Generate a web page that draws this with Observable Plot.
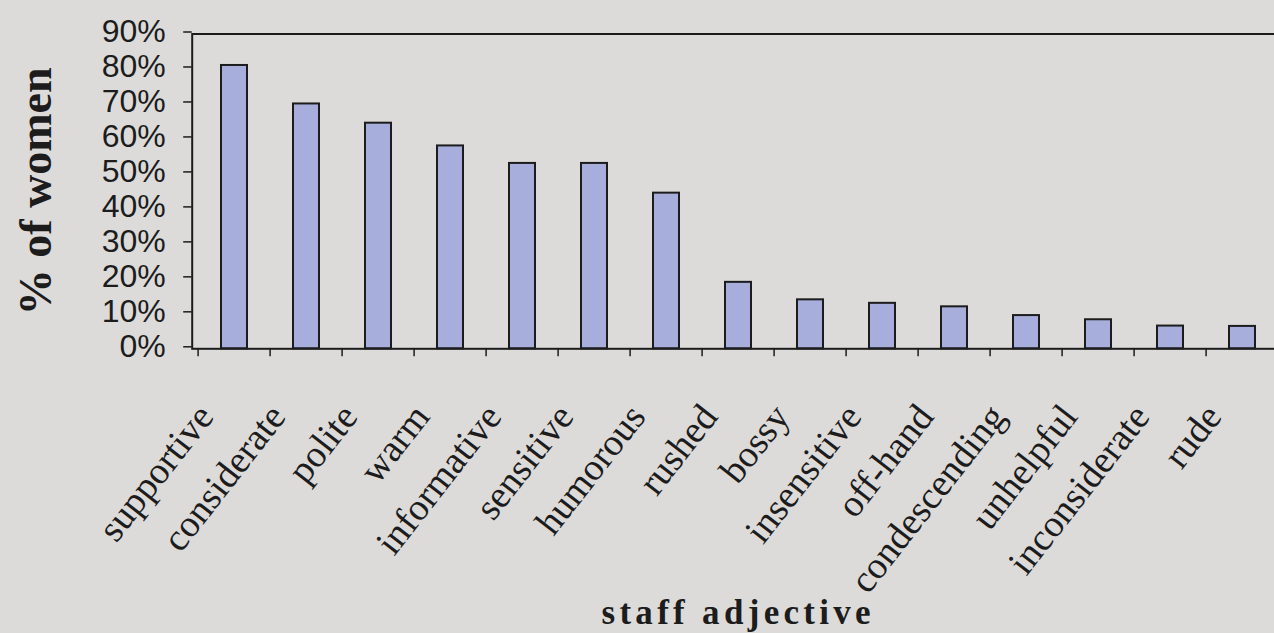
<!DOCTYPE html>
<html>
<head>
<meta charset="utf-8">
<script src="https://cdn.jsdelivr.net/npm/d3@7"></script>
<script src="https://cdn.jsdelivr.net/npm/@observablehq/plot@0.6"></script>
<style>
  html, body { margin: 0; padding: 0; background: #dcdbda; overflow: hidden; }
  #chart svg { display: block; max-width: none !important; }
</style>
</head>
<body>
<div id="chart"></div>
<script>
// ---- data ----
const adjectives = ["supportive", "considerate", "polite", "warm", "informative", "sensitive", "humorous",
  "rushed", "bossy", "insensitive", "off-hand", "condescending", "unhelpful", "inconsiderate", "rude"];
const percentWomen = [81, 70, 64.5, 58, 53, 53, 44.5, 19, 14, 13, 12, 9.5, 8.3, 6.5, 6.4];
const yTicks = [0, 10, 20, 30, 40, 50, 60, 70, 80, 90];
const yTitle = "% of women";
const xTitle = "staff adjective";

const data = adjectives.map((a, i) => ({adjective: a, pct: percentWomen[i]}));

const ink = "#1c1c1c";
const width = 1285, height = 633;
const mLeft = 191.7, mRight = 1.3, mTop = 33.5, mBottom = 284.7;
const step = (width - mLeft - mRight) / adjectives.length;
const serif = "Liberation Serif, Times New Roman, serif";

const chart = Plot.plot({
  width, height,
  marginTop: mTop, marginLeft: mLeft, marginRight: mRight, marginBottom: mBottom,
  style: {background: "transparent", color: ink, overflow: "visible"},
  x: {domain: adjectives, paddingInner: 0.635, paddingOuter: 0.3175},
  y: {domain: [0, 90]},
  marks: [
    Plot.barY(data, {x: "adjective", y: "pct", fill: "#a8aedb", stroke: ink, strokeWidth: 2}),
    Plot.frame({stroke: ink, strokeWidth: 2}),
    Plot.axisY({ticks: yTicks, tickSize: 8.5, tickPadding: 18, tickFormat: d => d + "%",
      fontSize: 32, fontFamily: "Liberation Sans, Arial, sans-serif", dy: -2, label: null,
      strokeWidth: 1.5}),
    Plot.axisX({tickSize: 8, fill: "none", dx: -step / 2, label: null, strokeWidth: 1.5}),
    Plot.axisX({tickSize: 0, tickRotate: -52, tickPadding: 61, dx: -29,
      fontSize: 38, fontFamily: serif, label: null}),
    Plot.text([yTitle], {frameAnchor: "left", textAnchor: "middle", dx: -156.4, rotate: -90, fontSize: 46,
      fontWeight: "bold", fontFamily: serif, fill: ink}),
    Plot.text([xTitle], {frameAnchor: "bottom", dy: 275.5, fontSize: 35,
      fontWeight: "bold", fontFamily: serif, fill: ink})
  ]
});

d3.select(chart).selectAll("text").filter(function() { return this.textContent === xTitle; })
  .attr("letter-spacing", "4.3px");

document.getElementById("chart").appendChild(chart);
</script>
</body>
</html>
